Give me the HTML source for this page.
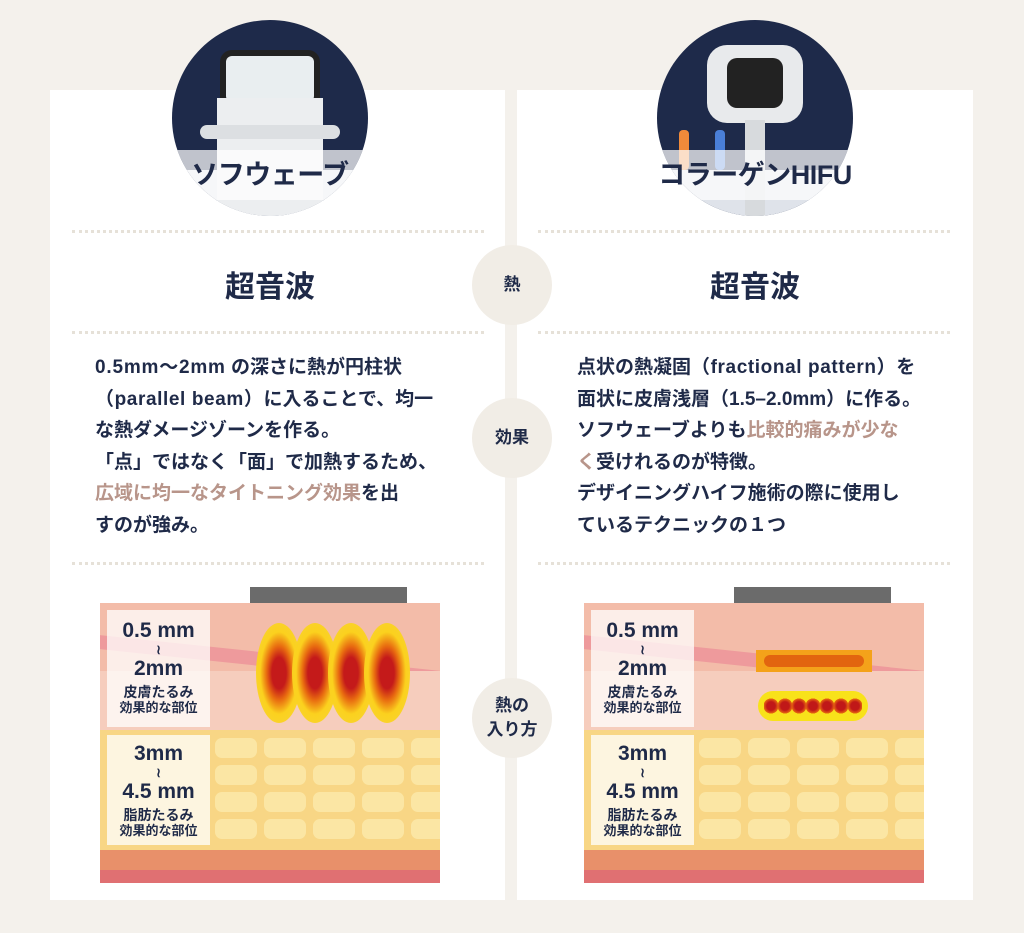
<!DOCTYPE html>
<html><head><meta charset="utf-8"><style>
*{margin:0;padding:0;box-sizing:border-box}
body{width:1024px;height:933px;background:#f4f1ec;position:relative;overflow:hidden;font-family:"Liberation Sans","Noto Sans CJK JP",sans-serif;color:#1f2a48}
.abs{position:absolute}
.card{position:absolute;top:90px;height:810px;background:#fff}
.dot{position:absolute;height:0;border-top:3px dotted #e6e1d8}
.mid{position:absolute;left:472px;width:80px;height:80px;border-radius:50%;background:#f1ede6;display:flex;align-items:center;justify-content:center;text-align:center;font-size:17px;font-weight:bold;line-height:24px}
.h{position:absolute;font-size:30px;font-weight:bold;text-align:center;width:200px}
.txt{position:absolute;font-size:19px;font-weight:bold;line-height:31.5px;white-space:nowrap}
.lat{letter-spacing:0.6px}
.hl{color:#b8958a}
.circ{position:absolute;width:196px;height:196px;border-radius:50%;background:#1e2a4a;overflow:hidden}
.band{position:absolute;left:0;right:0;top:130px;height:50px;background:rgba(255,255,255,.72)}
.lab{position:absolute;width:260px;top:150px;height:50px;font-size:27px;font-weight:bold;text-align:center;line-height:50px;white-space:nowrap;letter-spacing:-0.5px}
.diag{position:absolute;width:340px;height:280px;overflow:hidden}
.skin{position:absolute;left:0;top:0;width:100%;height:127px;background:#f3bca9}
.fat{position:absolute;left:0;top:127px;width:100%;height:120px;background:#f8d685}
.b1{position:absolute;left:0;top:247px;width:100%;height:20px;background:#e8906a}
.b2{position:absolute;left:0;top:267px;width:100%;height:13px;background:#e07072}
.lb{position:absolute;left:7px;width:103px;background:rgba(255,255,255,.75);text-align:center;font-weight:bold}
.mm{font-size:21px;line-height:22px}
.sm{font-size:13px;line-height:16px}
.cell{position:absolute;width:42px;height:20px;border-radius:7px;background:#fbe6a4}
.lobe{position:absolute;top:20px;width:46px;height:100px;border-radius:50%;background:radial-gradient(ellipse,#c41a1a 22%,#e86a10 38%,#fbd11e 58%,rgba(248,215,42,.85))}
</style></head><body>
<div class="card" style="left:50px;width:455px"></div>
<div class="card" style="left:517px;width:456px"></div>

<div class="circ" style="left:172px;top:20px">
 <div class="abs" style="left:0;top:150px;width:196px;height:50px;background:#dfe3ea"></div>
 <div class="abs" style="left:48px;top:30px;width:100px;height:60px;border-radius:12px;background:#222"></div>
 <div class="abs" style="left:54px;top:36px;width:88px;height:46px;border-radius:6px;background:#e9eef0"></div>
 <div class="abs" style="left:45px;top:78px;width:106px;height:118px;background:#eceef0"></div>
 <div class="abs" style="left:28px;top:105px;width:140px;height:14px;border-radius:7px;background:#dcdfe2"></div>
 <div class="band"></div>
</div>
<div class="lab" style="left:140px">ソフウェーブ</div>
<div class="circ" style="left:657px;top:20px">
 <div class="abs" style="left:0;top:150px;width:196px;height:50px;background:#dfe3ea"></div>
 <div class="abs" style="left:50px;top:25px;width:96px;height:78px;border-radius:20px;background:#e8eaec"></div>
 <div class="abs" style="left:70px;top:38px;width:56px;height:50px;border-radius:10px;background:#222"></div>
 <div class="abs" style="left:88px;top:100px;width:20px;height:96px;background:#d7dadd"></div>
 <div class="abs" style="left:22px;top:110px;width:10px;height:40px;border-radius:4px;background:#f08a3a"></div>
 <div class="abs" style="left:58px;top:110px;width:10px;height:40px;border-radius:4px;background:#4a7fd8"></div>
 <div class="band"></div>
</div>
<div class="lab" style="left:625px">コラーゲンHIFU</div>

<div class="dot" style="left:72px;width:412px;top:230px"></div>
<div class="dot" style="left:538px;width:412px;top:230px"></div>
<div class="dot" style="left:72px;width:412px;top:331px"></div>
<div class="dot" style="left:538px;width:412px;top:331px"></div>
<div class="dot" style="left:72px;width:412px;top:562px"></div>
<div class="dot" style="left:538px;width:412px;top:562px"></div>

<div class="mid" style="top:245px">熱</div>
<div class="mid" style="top:398px">効果</div>
<div class="mid" style="top:678px">熱の<br>入り方</div>

<div class="h" style="left:170px;top:262px">超音波</div>
<div class="h" style="left:655px;top:262px">超音波</div>

<div class="txt" style="left:95px;top:352px"><span style="letter-spacing:0.8px">0.5mm〜2mm</span> の深さに熱が円柱状<br><span class="lat">（parallel beam）</span>に入ることで、均一<br>な熱ダメージゾーンを作る。<br>「点」ではなく「面」で加熱するため、<br><span class="hl">広域に均一なタイトニング効果</span>を出<br>すのが強み。</div>
<div class="txt" style="left:577px;top:352px">点状の熱凝固<span class="lat">（fractional pattern）</span>を<br>面状に皮膚浅層（1.5–2.0mm）に作る。<br>ソフウェーブよりも<span class="hl">比較的痛みが少な</span><br><span class="hl">く</span>受けれるのが特徴。<br>デザイニングハイフ施術の際に使用し<br>ているテクニックの１つ</div>

<!-- left diagram -->
<div class="abs" style="left:250px;top:587px;width:157px;height:16px;background:#6b6b6b"></div>
<div class="diag" style="left:100px;top:603px">
 <div class="skin"></div>
 <div class="abs" style="left:0;top:50px;width:100%;height:14px;background:#ee9a9c;transform:skewY(6deg)"></div>
 <div class="abs" style="left:0;top:68px;width:100%;height:59px;background:#f6cdbd"></div>
 <div class="fat"></div>
 <div class="b1"></div><div class="b2"></div>
 <div class="lobe" style="left:156px"></div>
 <div class="lobe" style="left:192px"></div>
 <div class="lobe" style="left:228px"></div>
 <div class="lobe" style="left:264px"></div>
 <div class="lb" style="top:7px;height:117px;padding-top:10px"><div class="mm">0.5 mm</div><div class="sm">≀</div><div class="mm">2mm</div><div class="sm" style="font-size:14px;margin-top:4px">皮膚たるみ</div><div class="sm">効果的な部位</div></div>
 <div class="lb" style="top:132px;height:110px;padding-top:8px"><div class="mm">3mm</div><div class="sm">≀</div><div class="mm">4.5 mm</div><div class="sm" style="font-size:14px;margin-top:4px">脂肪たるみ</div><div class="sm">効果的な部位</div></div>
</div>

<!-- right diagram -->
<div class="abs" style="left:734px;top:587px;width:157px;height:16px;background:#6b6b6b"></div>
<div class="diag" style="left:584px;top:603px">
 <div class="skin"></div>
 <div class="abs" style="left:0;top:50px;width:100%;height:14px;background:#ee9a9c;transform:skewY(6deg)"></div>
 <div class="abs" style="left:0;top:68px;width:100%;height:59px;background:#f6cdbd"></div>
 <div class="fat"></div>
 <div class="b1"></div><div class="b2"></div>
 <div class="abs" style="left:172px;top:47px;width:116px;height:22px;background:#f4a21a"></div>
 <div class="abs" style="left:180px;top:52px;width:100px;height:12px;border-radius:6px;background:#e2650f"></div>
 <div class="abs" style="left:174px;top:88px;width:110px;height:30px;border-radius:15px;background:#f8e21a"></div>
 <div class="abs" style="left:180px;top:95px;width:98px;height:16px;background:radial-gradient(circle,#c01818 40%,#e86a10 70%,transparent 72%) 0 0/14px 16px repeat-x"></div>
 <div class="lb" style="top:7px;height:117px;padding-top:10px"><div class="mm">0.5 mm</div><div class="sm">≀</div><div class="mm">2mm</div><div class="sm" style="font-size:14px;margin-top:4px">皮膚たるみ</div><div class="sm">効果的な部位</div></div>
 <div class="lb" style="top:132px;height:110px;padding-top:8px"><div class="mm">3mm</div><div class="sm">≀</div><div class="mm">4.5 mm</div><div class="sm" style="font-size:14px;margin-top:4px">脂肪たるみ</div><div class="sm">効果的な部位</div></div>
</div>

<script>
document.querySelectorAll('.fat').forEach(f=>{
 const p=f.parentNode;
 for(let r=0;r<4;r++)for(let c=0;c<5;c++){
  const d=document.createElement('div');d.className='cell';
  d.style.left=(115+c*49)+'px';d.style.top=(135+r*27)+'px';
  p.insertBefore(d,f.nextSibling);
 }
});
</script>
</body></html>
